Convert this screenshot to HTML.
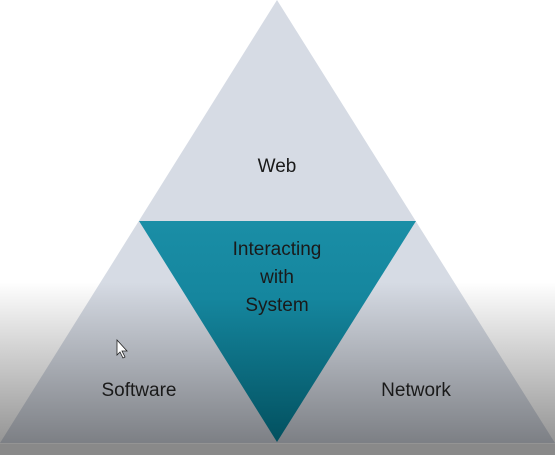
<!DOCTYPE html>
<html><head><style>
html,body{margin:0;padding:0;width:555px;height:455px;overflow:hidden;background:#fff}
svg{display:block}
text{font-family:"Liberation Sans",sans-serif;font-size:19px;fill:#1a1a1a;text-anchor:middle}
</style></head><body>
<svg width="555" height="455" viewBox="0 0 555 455">
<defs>
<linearGradient id="teal" x1="0" y1="221" x2="0" y2="442" gradientUnits="userSpaceOnUse">
<stop offset="0" stop-color="#1a8ea6"/><stop offset="0.35" stop-color="#15869e"/><stop offset="1" stop-color="#02505f"/>
</linearGradient>
<linearGradient id="shade" x1="0" y1="0" x2="0" y2="455" gradientUnits="userSpaceOnUse">
<stop offset="0.62" stop-color="#000" stop-opacity="0"/>
<stop offset="0.66" stop-color="#000" stop-opacity="0.05"/>
<stop offset="0.975" stop-color="#000" stop-opacity="0.42"/>
<stop offset="1" stop-color="#000" stop-opacity="0.42"/>
</linearGradient>
</defs>
<rect width="555" height="455" fill="#fff"/>
<polygon points="277,0 555,443 0,443" fill="#d6dbe4"/>
<rect width="555" height="455" fill="url(#shade)"/>
<rect y="444" width="555" height="11" fill="#898989"/>
<polygon points="139,221 416,221 277,442" fill="url(#teal)"/>
<text x="277" y="172">Web</text>
<text x="277" y="255">Interacting</text>
<text x="277" y="283">with</text>
<text x="277" y="311">System</text>
<text x="139" y="396">Software</text>
<text x="416" y="396">Network</text>
<path d="M117,340 L117,355 L120,352 L123,358 L125,357 L122,351 L127,351 Z" fill="#fff" stroke="#222" stroke-width="0.8"/>
</svg>
</body></html>
